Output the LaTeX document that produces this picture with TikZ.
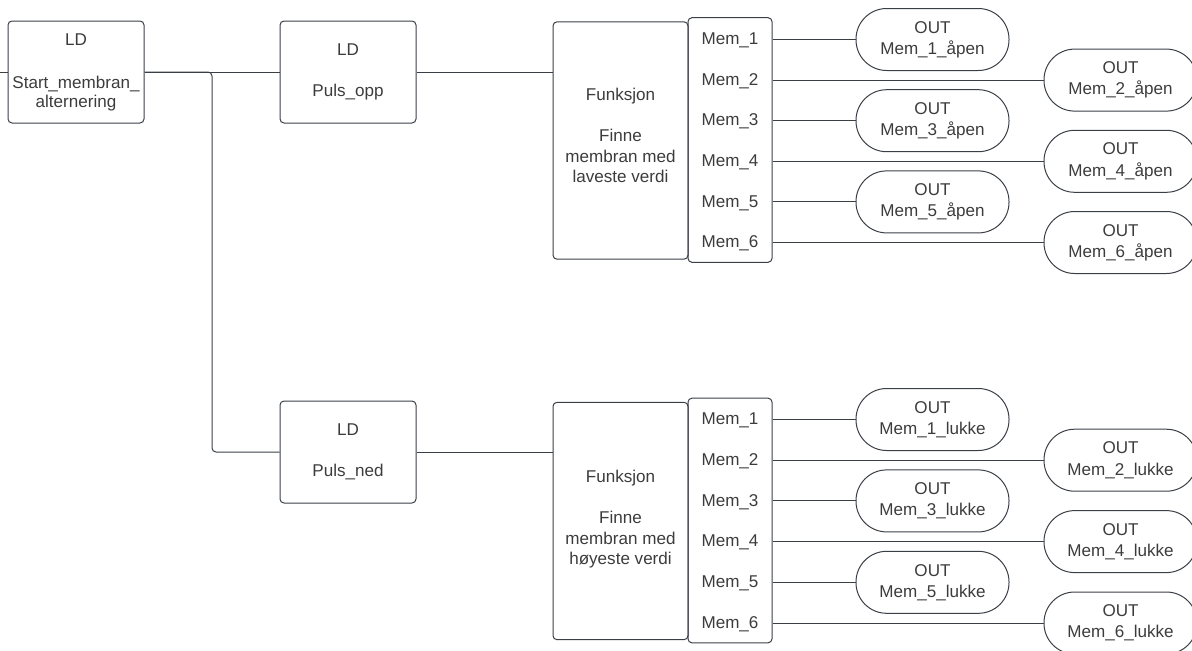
\documentclass[tikz,border=0pt]{standalone}
\usepackage{fontspec}
\setmainfont{Liberation Sans}
\usepackage{tikz}
\usetikzlibrary{positioning,calc}
\definecolor{WireGray}{HTML}{3A3F46}
\definecolor{TextGray}{HTML}{3C3C3C}

\begin{document}
\begin{tikzpicture}[x=0.75pt,y=-0.75pt,line width=0.75pt,
    every node/.style={text=TextGray,font=\fontsize{12.8}{15.2}\selectfont},
    ldbox/.style={draw=WireGray,rounded corners=3pt,minimum width=102pt,minimum height=76.5pt,align=center,inner sep=0pt},
    funbox/.style={draw=WireGray,rounded corners=3pt,minimum width=101.25pt,minimum height=178pt,align=center,inner sep=0pt},
    membox/.style={draw=WireGray,rounded corners=3pt,minimum width=63pt,minimum height=183.5pt,inner sep=0pt},
    outpill/.style={draw=WireGray,rounded corners=23pt,minimum width=114.75pt,minimum height=46.5pt,align=center,inner sep=0pt,font=\fontsize{12.8}{15.8}\selectfont},
    wire/.style={draw=WireGray}]
        \useasboundingbox (0,0) rectangle (1192,650);

        % Draw the LD blocks
        \node[ldbox] (start) at (76,72) {LD\\[17pt]Start\_membran\_\\[-1pt]alternering};
        \node[ldbox] (opp) at (348,72) {LD\\[15.5pt]Puls\_opp};
        \node[ldbox] (ned) at (348,452) {LD\\[15.5pt]Puls\_ned};

        % Draw the function blocks
        \node[funbox] (fun1) at (620.5,140.5) {Funksjon\\[15.5pt]Finne\\membran med\\laveste verdi\\[-7.7pt]\mbox{}};
        \node[membox] (mem1) at (730,140) {};
        \node[funbox] (fun2) at (620.5,521) {Funksjon\\[15.5pt]Finne\\membran med\\høyeste verdi\\[-10pt]\mbox{}};
        \node[membox] (mem2) at (730,520.5) {};

        % Wires between the blocks
        \coordinate (in) at (0,72);
        \coordinate (split) at (212,72);
        \draw[wire] (in) -- (start.west);
        \draw[wire] (start.east) -- (opp.west);
        \draw[wire,rounded corners=3pt] (start.east) -- (split) |- (ned.west);
        \draw[wire] (opp.east) -- (opp.east -| fun1.west);
        \draw[wire] (ned.east) -- (ned.east -| fun2.west);

        % Draw the outputs for the lowest value
        \foreach \i[evaluate={\y=39.5+40.6*(\i-1);\px=isodd(\i)?932.5:1120.5}] in {1,...,6}{
            \node (ma\i) at (730,\y+1) {Mem\_\i};
            \node[outpill] (oa\i) at (\px,\y) {OUT\\Mem\_\i\_åpen};
            \draw[wire] (oa\i.west -| mem1.east) -- (oa\i.west);
        }

        % Draw the outputs for the highest value
        \foreach \i[evaluate={\y=419.5+40.7*(\i-1);\px=isodd(\i)?932.5:1120.5}] in {1,...,6}{
            \node (mb\i) at (730,\y+1) {Mem\_\i};
            \node[outpill] (ob\i) at (\px,\y) {OUT\\Mem\_\i\_lukke};
            \draw[wire] (ob\i.west -| mem2.east) -- (ob\i.west);
        }
    \end{tikzpicture}
\end{document}
